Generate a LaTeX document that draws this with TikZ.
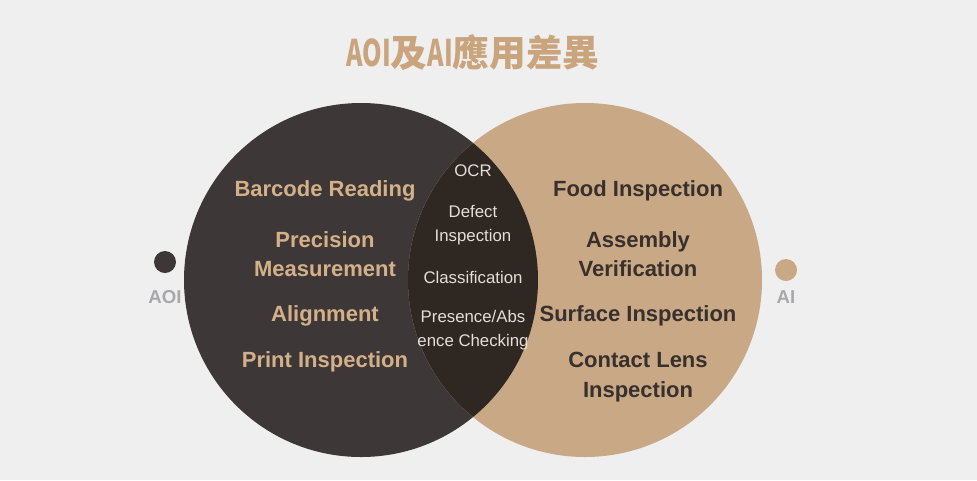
\documentclass[tikz,border=0pt]{standalone}
\usepackage{fontspec}
\setmainfont{Liberation Sans}
\newfontfamily\cjk{Noto Sans CJK TC}
\definecolor{bg}{HTML}{F0EFEF}
\definecolor{darkc}{HTML}{3D3837}
\definecolor{tanc}{HTML}{C9A886}
\definecolor{lensc}{HTML}{2F2722}
\definecolor{titlec}{HTML}{C9A47C}
\definecolor{lefttxt}{HTML}{D4B089}
\definecolor{righttxt}{HTML}{38302C}
\definecolor{lenstxt}{HTML}{E2DEDA}
\definecolor{graytxt}{HTML}{A8A8AC}
\begin{document}
\begin{tikzpicture}[x=0.75pt,y=-0.75pt,
  lefttext/.style={font=\fontsize{16.5}{19}\selectfont\bfseries, text=lefttxt, align=center, inner sep=0pt},
  righttext/.style={font=\fontsize{16.5}{19}\selectfont\bfseries, text=righttxt, align=center, inner sep=0pt},
  lenstext/.style={font=\fontsize{12.6}{18.5}\selectfont, text=lenstxt, align=center, inner sep=0pt},
  legendtext/.style={font=\fontsize{14}{16}\selectfont\bfseries, text=graytxt, inner sep=0pt},
  dotmark/.style={circle, minimum size=16.5pt, inner sep=0pt}]
\fill[bg] (0,0) rectangle (977,480);
\useasboundingbox (0,0) rectangle (977,480);
% circles
\fill[darkc] (361,280) circle[radius=177];
\fill[tanc] (585,280) circle[radius=177];
\begin{scope}
  \clip (361,280) circle[radius=177];
  \fill[lensc] (585,280) circle[radius=177];
\end{scope}
% title
\node[font=\cjk\bfseries\fontsize{27.5}{31}\selectfont, text=titlec, inner sep=0pt] (title) at (473,53)
  {\scalebox{0.68}[1]{AOI}及\scalebox{0.68}[1]{AI}應用差異};
% legend
\node[dotmark, fill=darkc] (aoidot) at (165,262) {};
\node[legendtext] (aoilbl) at (165,297) {AOI};
\node[dotmark, fill=tanc] (aidot) at (786,270) {};
\node[legendtext] (ailbl) at (786,297) {AI};
% left items
\node[lefttext] (barcode) at (325,191) {Barcode Reading};
\node[lefttext] (precision) at (325,254) {Precision\\[3pt]Measurement};
\node[lefttext] (alignment) at (325,316) {Alignment};
\node[lefttext] (print) at (325,362) {Print Inspection};
% lens items
\node[lenstext] (ocr) at (473,171) {OCR};
\node[lenstext] (defect) at (473,225) {Defect\\Inspection};
\node[lenstext] (classif) at (473,277) {Classification};
\node[lenstext] (presence) at (473,330) {Presence/Abs\\ence Checking};
% right items
\node[righttext] (food) at (638,191) {Food Inspection};
\node[righttext] (assembly) at (638,254) {Assembly\\[3pt]Verification};
\node[righttext] (surface) at (638,316) {Surface Inspection};
\node[righttext] (contact) at (638,377) {Contact Lens\\[3pt]Inspection};
\end{tikzpicture}
\end{document}
